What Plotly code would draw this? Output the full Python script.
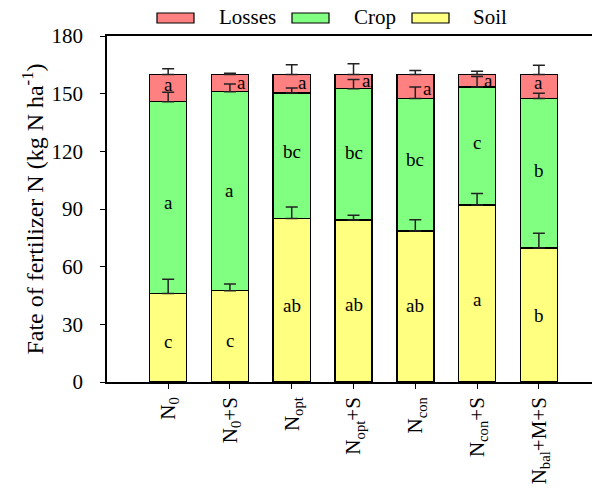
import plotly.graph_objects as go

# Treatments and the fate of the applied fertilizer N (kg N/ha)
treatments = ["N<sub>0</sub>", "N<sub>0</sub>+S", "N<sub>opt</sub>", "N<sub>opt</sub>+S",
              "N<sub>con</sub>", "N<sub>con</sub>+S", "N<sub>bal</sub>+M+S"]
soil = [46.1, 47.5, 85.1, 84.3, 78.6, 92.1, 69.7]
crop = [99.7, 103.5, 65.3, 68.3, 68.9, 61.4, 77.8]
losses = [14.2, 9.0, 9.6, 7.4, 12.5, 6.5, 12.5]
soil_err = [7.3, 3.5, 6.0, 2.4, 5.8, 5.9, 7.7]
crop_err = [5.0, 4.0, 2.6, 4.8, 6.0, 5.4, 2.7]
loss_err = [3.0, 0.6, 5.1, 5.6, 2.0, 1.6, 4.8]

# Significance letters for each component
soil_letters = ["c", "c", "ab", "ab", "ab", "a", "b"]
crop_letters = ["a", "a", "bc", "bc", "bc", "c", "b"]
loss_letters = ["a", "a", "a", "a", "a", "a", "a"]

FONT = "Times New Roman, Liberation Serif, serif"
colors = {"Soil": "#FFFF80", "Crop": "#80FF80", "Losses": "#FF8080"}

components = [("Soil", soil, soil_err), ("Crop", crop, crop_err), ("Losses", losses, loss_err)]

fig = go.Figure()
for name, vals, errs in components:
    fig.add_trace(go.Bar(
        x=treatments, y=vals, name=name,
        marker=dict(color=colors[name], line=dict(color="black", width=1.5)),
        showlegend=False,
    ))

# Upward error bars at the top of every segment, drawn above all bars
running = [0.0] * len(treatments)
for name, vals, errs in components:
    running = [r + v for r, v in zip(running, vals)]
    fig.add_trace(go.Scatter(
        x=treatments, y=running, mode="markers",
        marker=dict(size=1, opacity=0),
        error_y=dict(type="data", array=errs, arrayminus=[0] * len(errs), symmetric=False,
                     color="#222222", thickness=1.5, width=6),
        showlegend=False, hoverinfo="skip",
    ))

# Letters placed in each stacked segment (pixel nudges keep them clear of error bars)
soil_dy = [-4, -4, -5, -4, 1, -6, 0]
crop_dy = [-5, 1, 4, 2, 5, 3, 3]
loss_dy = [4, 1, 1, 1, -2, 0, 4]
loss_dx = [0, 12, 11, 13, 12, 11, 0]
letter_font = dict(family=FONT, size=19, color="black")
for i, t in enumerate(treatments):
    top_c = soil[i] + crop[i]
    top_l = top_c + losses[i]
    fig.add_annotation(x=t, y=soil[i] / 2, text=soil_letters[i], showarrow=False,
                       yshift=soil_dy[i], font=letter_font)
    fig.add_annotation(x=t, y=(soil[i] + top_c) / 2, text=crop_letters[i], showarrow=False,
                       yshift=crop_dy[i], font=letter_font)
    fig.add_annotation(x=t, y=(top_c + top_l) / 2, text=loss_letters[i], showarrow=False,
                       xshift=loss_dx[i], yshift=loss_dy[i], font=letter_font)

# Legend row above the plot, drawn in paper coordinates
W_PLOT = 485.0
H_PLOT = 346.0
def px_x(p):
    return (p - 107) / W_PLOT
def px_y(p):
    return (382 - p) / H_PLOT

legend_items = [("Losses", 157, 217), ("Crop", 292, 352), ("Soil", 412, 471)]
for name, sx, tx in legend_items:
    fig.add_shape(type="rect", xref="paper", yref="paper",
                  x0=px_x(sx), x1=px_x(sx + 37), y0=px_y(23), y1=px_y(13),
                  fillcolor=colors[name], line=dict(color="black", width=1.2))
    fig.add_annotation(xref="paper", yref="paper", x=px_x(tx), y=px_y(17),
                       text=name, showarrow=False, xanchor="left", yanchor="middle",
                       font=dict(family=FONT, size=21, color="black"))

fig.update_layout(
    barmode="stack", bargap=0.4,
    width=592, height=499,
    margin=dict(l=107, r=0, t=36, b=117),
    plot_bgcolor="white", paper_bgcolor="white",
    font=dict(family=FONT, size=20, color="black"),
    showlegend=False,
)
fig.update_xaxes(
    range=[-0.99, 6.86], showline=True, linecolor="black", linewidth=1.5, mirror=True,
    ticks="outside", ticklen=5, tickcolor="black", tickwidth=1.2, tickangle=-90,
    tickfont=dict(family=FONT, size=21), showgrid=False,
)
fig.update_yaxes(
    range=[0, 180], tickvals=[0, 30, 60, 90, 120, 150, 180],
    showline=True, linecolor="black", linewidth=1.5,
    ticks="outside", ticklen=5, tickcolor="black", tickwidth=1.2,
    tickfont=dict(family=FONT, size=21), ticklabelstandoff=13, showgrid=False, zeroline=False,
    title=dict(text="Fate of fertilizer N (kg N ha<sup>-1</sup>)", standoff=1,
               font=dict(family=FONT, size=24)),
)

fig.write_html("out.html")
